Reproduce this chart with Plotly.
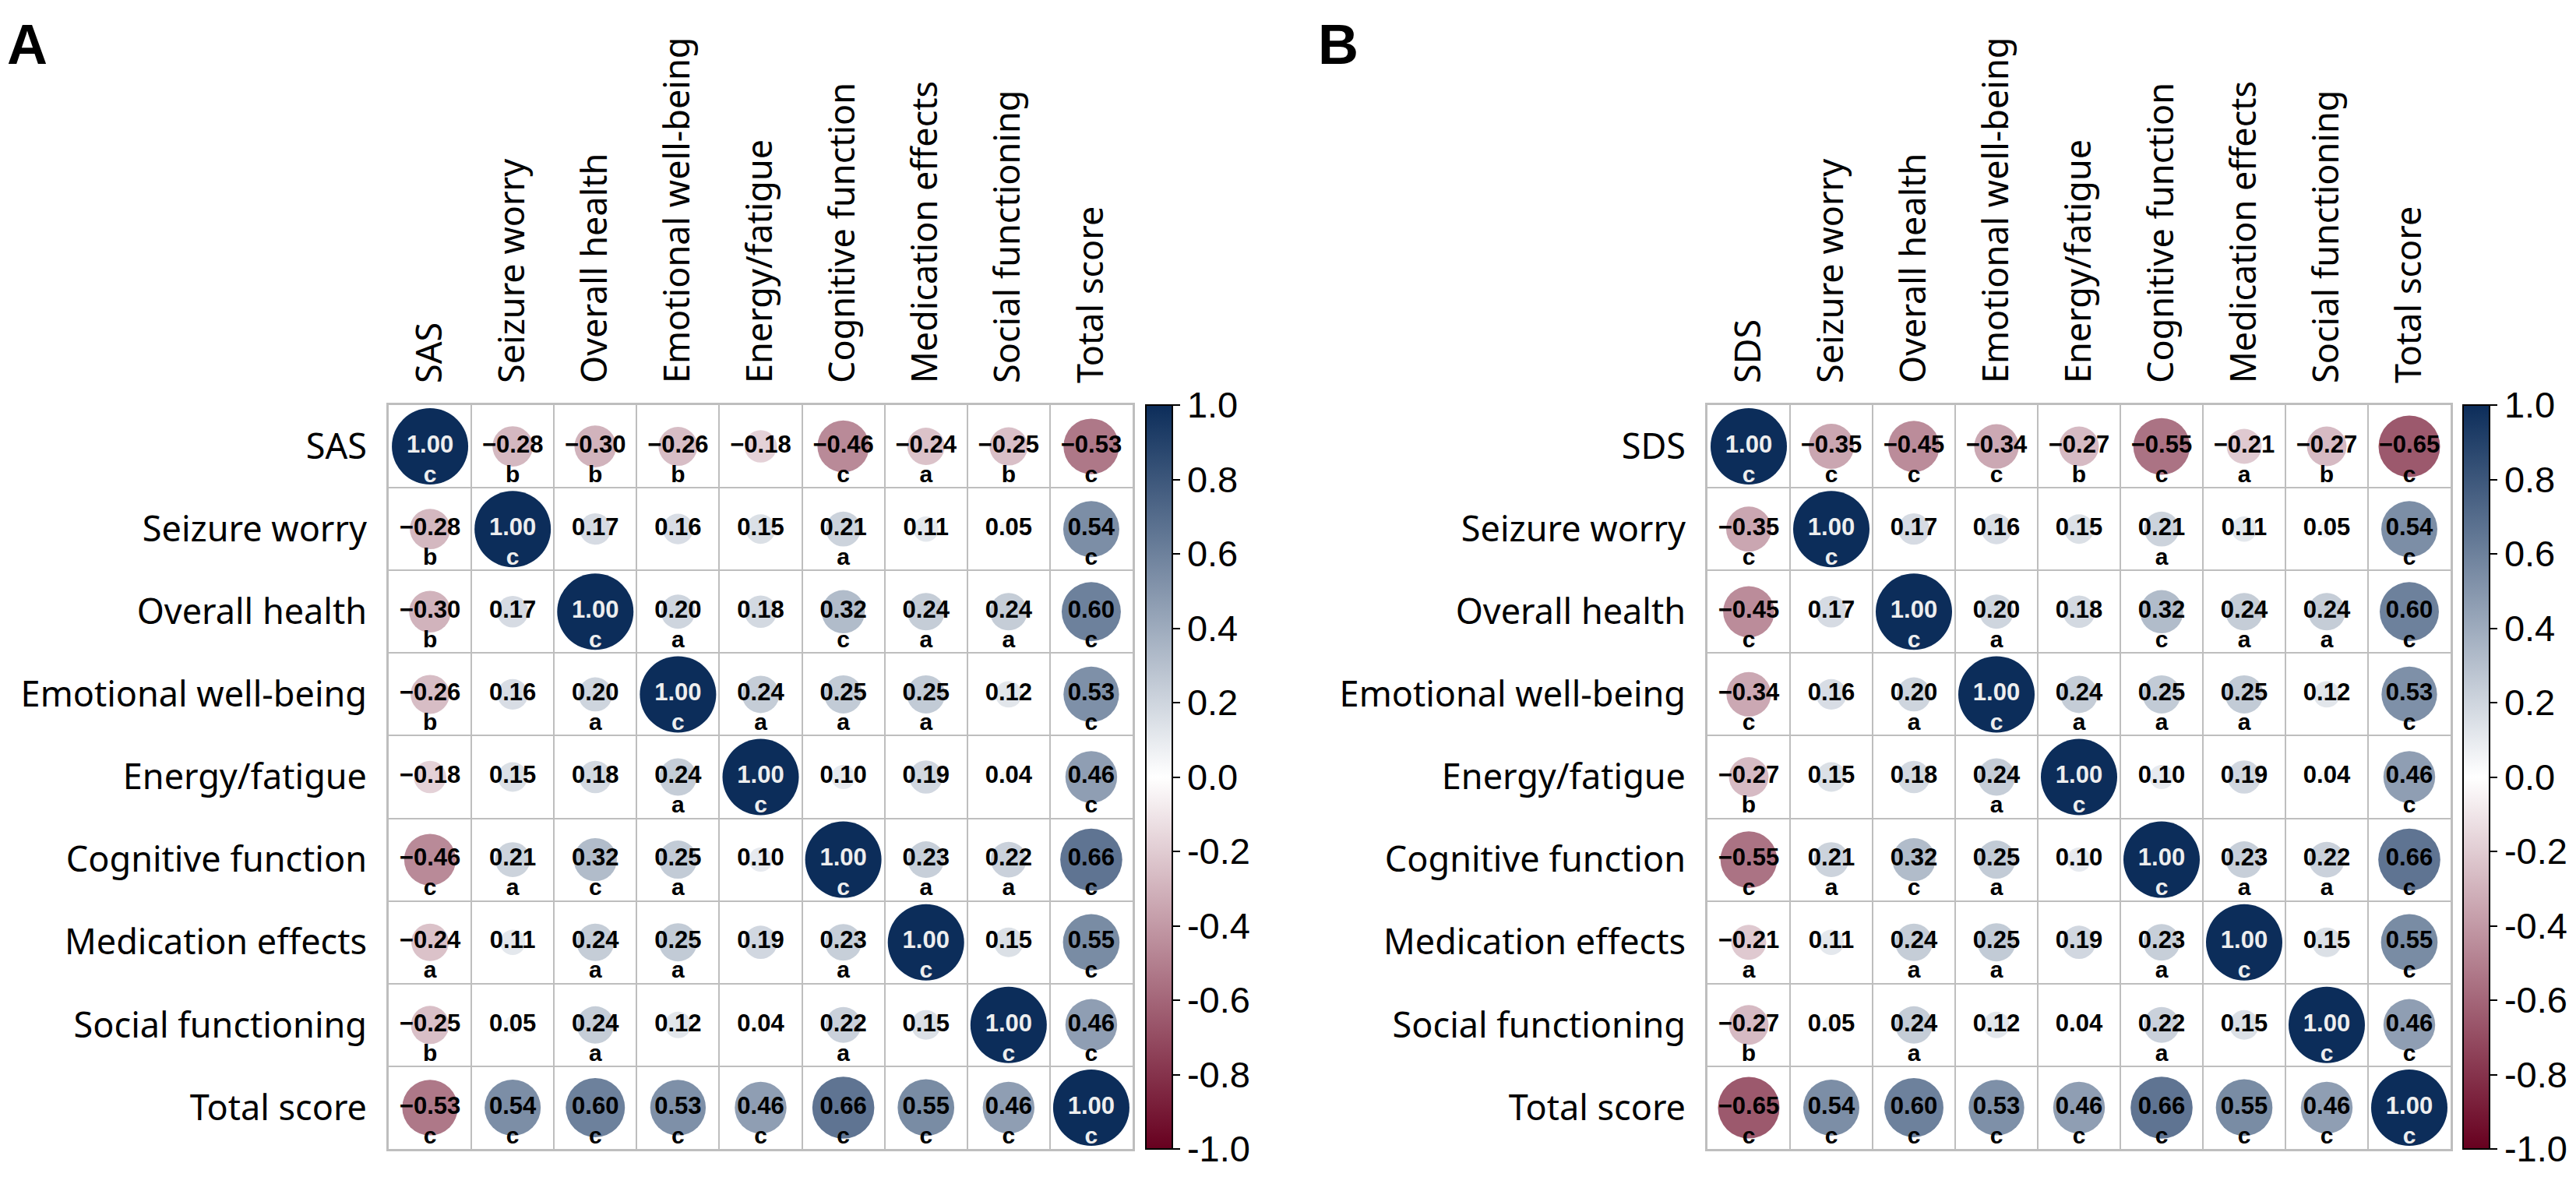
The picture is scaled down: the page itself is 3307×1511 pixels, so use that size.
import numpy as np
import plotly.graph_objects as go

W, H = 3307, 1511

# variable names of the two panels
vars_a = ["SAS", "Seizure worry", "Overall health", "Emotional well-being", "Energy/fatigue",
          "Cognitive function", "Medication effects", "Social functioning", "Total score"]
vars_b = ["SDS"] + vars_a[1:]

# correlation matrices
corr_a = [
    [1.00, -0.28, -0.30, -0.26, -0.18, -0.46, -0.24, -0.25, -0.53],
    [-0.28, 1.00, 0.17, 0.16, 0.15, 0.21, 0.11, 0.05, 0.54],
    [-0.30, 0.17, 1.00, 0.20, 0.18, 0.32, 0.24, 0.24, 0.60],
    [-0.26, 0.16, 0.20, 1.00, 0.24, 0.25, 0.25, 0.12, 0.53],
    [-0.18, 0.15, 0.18, 0.24, 1.00, 0.10, 0.19, 0.04, 0.46],
    [-0.46, 0.21, 0.32, 0.25, 0.10, 1.00, 0.23, 0.22, 0.66],
    [-0.24, 0.11, 0.24, 0.25, 0.19, 0.23, 1.00, 0.15, 0.55],
    [-0.25, 0.05, 0.24, 0.12, 0.04, 0.22, 0.15, 1.00, 0.46],
    [-0.53, 0.54, 0.60, 0.53, 0.46, 0.66, 0.55, 0.46, 1.00],
]
corr_b = [
    [1.00, -0.35, -0.45, -0.34, -0.27, -0.55, -0.21, -0.27, -0.65],
    [-0.35, 1.00, 0.17, 0.16, 0.15, 0.21, 0.11, 0.05, 0.54],
    [-0.45, 0.17, 1.00, 0.20, 0.18, 0.32, 0.24, 0.24, 0.60],
    [-0.34, 0.16, 0.20, 1.00, 0.24, 0.25, 0.25, 0.12, 0.53],
    [-0.27, 0.15, 0.18, 0.24, 1.00, 0.10, 0.19, 0.04, 0.46],
    [-0.55, 0.21, 0.32, 0.25, 0.10, 1.00, 0.23, 0.22, 0.66],
    [-0.21, 0.11, 0.24, 0.25, 0.19, 0.23, 1.00, 0.15, 0.55],
    [-0.27, 0.05, 0.24, 0.12, 0.04, 0.22, 0.15, 1.00, 0.46],
    [-0.65, 0.54, 0.60, 0.53, 0.46, 0.66, 0.55, 0.46, 1.00],
]

# significance letters (a/b/c), "" = not significant
sig_a = [
    ["c", "b", "b", "b", "", "c", "a", "b", "c"],
    ["b", "c", "", "", "", "a", "", "", "c"],
    ["b", "", "c", "a", "", "c", "a", "a", "c"],
    ["b", "", "a", "c", "a", "a", "a", "", "c"],
    ["", "", "", "a", "c", "", "", "", "c"],
    ["c", "a", "c", "a", "", "c", "a", "a", "c"],
    ["a", "", "a", "a", "", "a", "c", "", "c"],
    ["b", "", "a", "", "", "a", "", "c", "c"],
    ["c", "c", "c", "c", "c", "c", "c", "c", "c"],
]
sig_b = [
    ["c", "c", "c", "c", "b", "c", "a", "b", "c"],
    ["c", "c", "", "", "", "a", "", "", "c"],
    ["c", "", "c", "a", "", "c", "a", "a", "c"],
    ["c", "", "a", "c", "a", "a", "a", "", "c"],
    ["b", "", "", "a", "c", "", "", "", "c"],
    ["c", "a", "c", "a", "", "c", "a", "a", "c"],
    ["a", "", "a", "a", "", "a", "c", "", "c"],
    ["b", "", "a", "", "", "a", "", "c", "c"],
    ["c", "c", "c", "c", "c", "c", "c", "c", "c"],
]

cb_ticks = [-1.0, -0.8, -0.6, -0.4, -0.2, 0.0, 0.2, 0.4, 0.6, 0.8, 1.0]

colorscale = [[0.0, "#67001F"], [0.5, "#FFFFFF"], [1.0, "#0C2D5A"]]
grid_col = "#BEBEBE"
label_font = dict(family="Noto Sans", size=45, color="black")
cbar_font = dict(family="Liberation Sans", size=47, color="black")
cell_font = "Liberation Sans"

fig = go.Figure()

# pixel layout of the two panels
top_px, bottom_px = 512, 1467
panels = [
    dict(names=vars_a, corr=corr_a, sig=sig_a, x0=491, x1=1446, cb=1463, sfx=""),
    dict(names=vars_b, corr=corr_b, sig=sig_b, x0=2184, x1=3138, cb=3154, sfx="2"),
]


def fmt(v):
    s = f"{abs(v):.2f}"
    return ("\u2212" + s) if v < 0 else s


for p in panels:
    n = len(p["names"])
    r = np.array(p["corr"])
    rows, cols = np.indices((n, n)) + 1
    x = cols.ravel()
    y = rows.ravel()
    v = r.ravel()
    letters = np.array(p["sig"]).ravel()
    xa, ya = "x" + p["sfx"], "y" + p["sfx"]

    # circles, area ~ |r|
    fig.add_trace(go.Scatter(
        x=x, y=y, mode="markers", xaxis=xa, yaxis=ya, hoverinfo="skip",
        marker=dict(
            size=98 * np.sqrt(np.abs(v)), color=v, colorscale=colorscale,
            cmin=-1, cmax=1, opacity=1, line=dict(width=0), showscale=True,
            colorbar=dict(
                x=p["cb"] / W, xanchor="left", xpad=0,
                y=1 - top_px / H, yanchor="top", ypad=0,
                lenmode="pixels", len=bottom_px - top_px,
                thicknessmode="pixels", thickness=34,
                outlinewidth=2, outlinecolor="black",
                ticks="outside", ticklen=9, tickwidth=2, tickcolor="black",
                tickvals=cb_ticks,
                ticktext=[f"{t:.1f}".replace("-0.0", "0.0") for t in cb_ticks],
                tickfont=cbar_font,
            ),
        ),
    ))

    # coefficient labels
    num_col = ["#EEEEEE" if abs(val) >= 0.9 else "black" for val in v]
    fig.add_trace(go.Scatter(
        x=x, y=y, mode="text", xaxis=xa, yaxis=ya, hoverinfo="skip",
        text=[fmt(val) for val in v],
        textfont=dict(family=cell_font, size=31, color=num_col, weight="bold"),
    ))

    # significance letters
    fig.add_trace(go.Scatter(
        x=x, y=y + 0.36, mode="text", xaxis=xa, yaxis=ya, hoverinfo="skip",
        text=letters,
        textfont=dict(family=cell_font, size=30, color=num_col, weight="bold"),
    ))

    half = [k + 0.5 for k in range(1, n)]
    common = dict(
        tickmode="array", tickvals=list(range(1, n + 1)), ticktext=p["names"],
        tickfont=label_font, ticks="outside", ticklen=16, tickcolor="rgba(0,0,0,0)",
        showgrid=False, zeroline=False, showline=True, mirror=True,
        linecolor=grid_col, linewidth=3, fixedrange=True,
        minor=dict(tickmode="array", tickvals=half, showgrid=True,
                   gridcolor=grid_col, gridwidth=2, ticks=""),
    )
    fig.update_layout({
        "xaxis" + p["sfx"]: dict(
            common, domain=[p["x0"] / W, p["x1"] / W], range=[0.5, n + 0.5],
            side="top", tickangle=-90, anchor=ya,
        ),
        "yaxis" + p["sfx"]: dict(
            common, domain=[1 - bottom_px / H, 1 - top_px / H], range=[n + 0.5, 0.5],
            anchor=xa,
        ),
    })

fig.add_annotation(text="<b>A</b>", x=0, y=1 - 8 / H, xref="paper", yref="paper",
                   xanchor="left", yanchor="top", showarrow=False, borderpad=0,
                   font=dict(family="Liberation Sans", size=72, color="black"))
fig.add_annotation(text="<b>B</b>", x=1683 / W, y=1 - 8 / H, xref="paper", yref="paper",
                   xanchor="left", yanchor="top", showarrow=False, borderpad=0,
                   font=dict(family="Liberation Sans", size=72, color="black"))

fig.update_layout(
    width=W, height=H, margin=dict(l=0, r=0, t=0, b=0),
    paper_bgcolor="white", plot_bgcolor="white", showlegend=False,
)

fig.write_html("out.html")
